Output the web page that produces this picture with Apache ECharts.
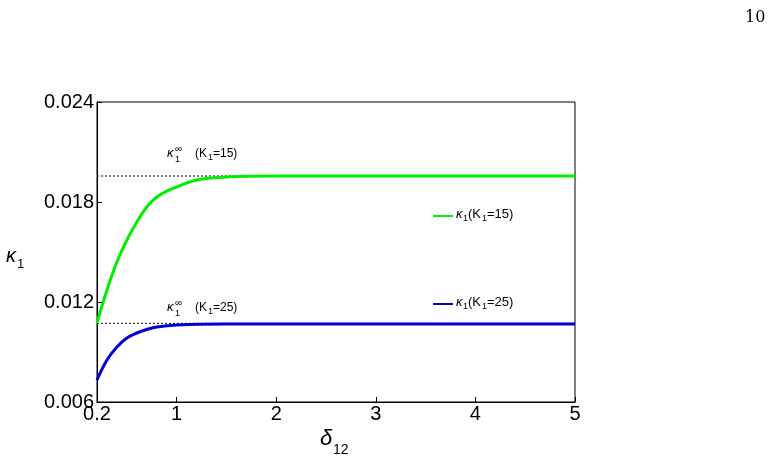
<!DOCTYPE html>
<html><head><meta charset="utf-8">
<script src="https://cdn.jsdelivr.net/npm/echarts@6/dist/echarts.min.js"></script>
<style>html,body{margin:0;padding:0;background:#fff}#c{width:774px;height:466px}</style>
</head><body><div id="c"></div>
<script>
const xTicks = [0.2, 1, 2, 3, 4, 5];
const yTicks = [0.006, 0.012, 0.018, 0.024];
const greenX = [0.2, 0.3, 0.4, 0.5, 0.6, 0.7, 0.8, 0.9, 1.0, 1.2, 1.5, 2, 3, 4, 5];
const greenY = [0.01074, 0.01272, 0.0144, 0.01572, 0.0168, 0.0177, 0.0183, 0.01865, 0.0189, 0.01932, 0.0195, 0.01956, 0.01956, 0.01956, 0.01956];
const blueX = [0.2, 0.3, 0.4, 0.5, 0.6, 0.7, 0.8, 1.0, 1.5, 2, 3, 4, 5];
const blueY = [0.00732, 0.00852, 0.0093, 0.00984, 0.01014, 0.01035, 0.0105, 0.01062, 0.01068, 0.01068, 0.01068, 0.01068, 0.01068];
const asymGreen = 0.01956, asymBlue = 0.01072;

const chart = echarts.init(document.getElementById('c'));
const font = 'Liberation Sans, Arial, sans-serif';
const zip = (a, b) => a.map((v, i) => [v, b[i]]);
chart.setOption({
  animation: false,
  grid: { left: 97, right: 199, top: 102, bottom: 64, show: true, borderColor: '#000', borderWidth: 1 },
  xAxis: { type: 'value', min: 0.2, max: 5,
    axisLine: { lineStyle: { color: '#000' } },
    axisTick: { inside: true, length: 5, customValues: xTicks, lineStyle: { color: '#000' } },
    axisLabel: { customValues: xTicks, color: '#000', fontSize: 20, fontFamily: font, margin: 2,
      formatter: v => String(v) },
    splitLine: { show: false } },
  yAxis: { type: 'value', min: 0.006, max: 0.024,
    axisLine: { lineStyle: { color: '#000' } },
    axisTick: { inside: true, length: 5, customValues: yTicks, lineStyle: { color: '#000' } },
    axisLabel: { customValues: yTicks, color: '#000', fontSize: 20, fontFamily: font, margin: 3,
      formatter: v => v.toFixed(3) },
    splitLine: { show: false } },
  series: [
    { type: 'line', data: [[0.2, asymGreen], [5, asymGreen]], symbol: 'none', silent: true,
      lineStyle: { color: '#000', width: 1, type: [2, 2] } },
    { type: 'line', data: [[0.2, asymBlue], [5, asymBlue]], symbol: 'none', silent: true,
      lineStyle: { color: '#000', width: 1, type: [2, 2] } },
    { type: 'line', data: zip(greenX, greenY), smooth: 0.4, symbol: 'none',
      lineStyle: { color: '#00ee00', width: 3 } },
    { type: 'line', data: zip(blueX, blueY), smooth: 0.4, symbol: 'none',
      lineStyle: { color: '#0000dd', width: 3 } }
  ],
  graphic: [
    { type: 'text', left: 745, top: 10, style: { text: '10', font: '16px DejaVu Serif, serif', fill: '#000' } },
    { type: 'text', left: 6, top: 246, style: { text: 'κ', font: 'italic 20px ' + font, fill: '#000' } },
    { type: 'text', left: 17, top: 258, style: { text: '1', font: '13px ' + font, fill: '#000' } },
    { type: 'text', left: 320, top: 428, style: { text: 'δ', font: 'italic 22px ' + font, fill: '#000' } },
    { type: 'text', left: 333, top: 443, style: { text: '12', font: '14px ' + font, fill: '#000' } },
    { type: 'text', left: 167, top: 147, style: { text: 'κ', font: 'italic 13px ' + font, fill: '#000' } },
    { type: 'text', left: 175, top: 144, style: { text: '∞', font: '10px ' + font, fill: '#000' } },
    { type: 'text', left: 175, top: 155, style: { text: '1', font: '9px ' + font, fill: '#000' } },
    { type: 'text', left: 195, top: 148, style: { text: '(K', font: '12px ' + font, fill: '#000' } },
    { type: 'text', left: 208, top: 153, style: { text: '1', font: '9px ' + font, fill: '#000' } },
    { type: 'text', left: 213, top: 148, style: { text: '=15)', font: '12px ' + font, fill: '#000' } },
    { type: 'text', left: 167, top: 301, style: { text: 'κ', font: 'italic 13px ' + font, fill: '#000' } },
    { type: 'text', left: 175, top: 298, style: { text: '∞', font: '10px ' + font, fill: '#000' } },
    { type: 'text', left: 175, top: 309, style: { text: '1', font: '9px ' + font, fill: '#000' } },
    { type: 'text', left: 195, top: 302, style: { text: '(K', font: '12px ' + font, fill: '#000' } },
    { type: 'text', left: 208, top: 307, style: { text: '1', font: '9px ' + font, fill: '#000' } },
    { type: 'text', left: 213, top: 302, style: { text: '=25)', font: '12px ' + font, fill: '#000' } },
    { type: 'line', shape: { x1: 433, y1: 216, x2: 453, y2: 216 }, style: { stroke: '#00ee00', lineWidth: 2 } },
    { type: 'text', left: 456, top: 208, style: { text: 'κ', font: 'italic 13px ' + font, fill: '#000' } },
    { type: 'text', left: 463, top: 214, style: { text: '1', font: '9px ' + font, fill: '#000' } },
    { type: 'text', left: 468, top: 208, style: { text: '(K', font: '13px ' + font, fill: '#000' } },
    { type: 'text', left: 482, top: 214, style: { text: '1', font: '9px ' + font, fill: '#000' } },
    { type: 'text', left: 487, top: 208, style: { text: '=15)', font: '13px ' + font, fill: '#000' } },
    { type: 'line', shape: { x1: 433, y1: 304, x2: 453, y2: 304 }, style: { stroke: '#0000dd', lineWidth: 2 } },
    { type: 'text', left: 456, top: 296, style: { text: 'κ', font: 'italic 13px ' + font, fill: '#000' } },
    { type: 'text', left: 463, top: 302, style: { text: '1', font: '9px ' + font, fill: '#000' } },
    { type: 'text', left: 468, top: 296, style: { text: '(K', font: '13px ' + font, fill: '#000' } },
    { type: 'text', left: 482, top: 302, style: { text: '1', font: '9px ' + font, fill: '#000' } },
    { type: 'text', left: 487, top: 296, style: { text: '=25)', font: '13px ' + font, fill: '#000' } }
  ]
});
</script></body></html>
